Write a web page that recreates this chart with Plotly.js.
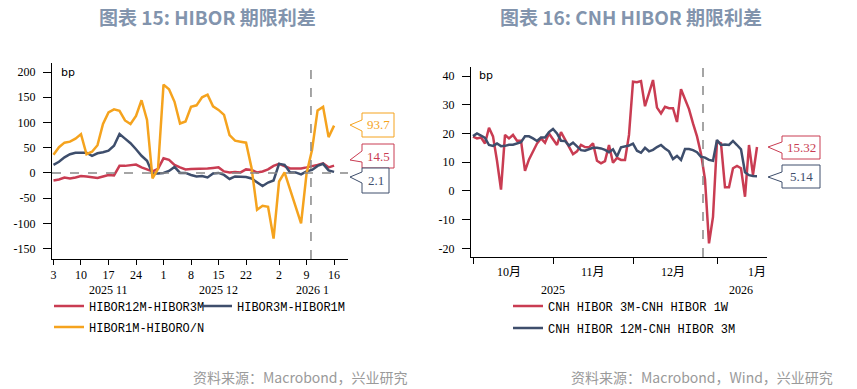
<!DOCTYPE html>
<html><head><meta charset="utf-8">
<script src="https://cdn.plot.ly/plotly-3.0.1.min.js"></script>
<style>html,body{margin:0;padding:0;background:#fff;}#chart{width:857px;height:389px;}</style>
</head><body><div id="chart"></div>
<script>
// ---------- DATA: HIBOR term spreads (bp), HK trading days ----------
const hiborDates = ['2025-11-03','2025-11-04','2025-11-05','2025-11-06','2025-11-07','2025-11-10','2025-11-11','2025-11-12','2025-11-13','2025-11-14',
  '2025-11-17','2025-11-18','2025-11-19','2025-11-20','2025-11-21','2025-11-24','2025-11-25','2025-11-26','2025-11-27','2025-11-28',
  '2025-12-01','2025-12-02','2025-12-03','2025-12-04','2025-12-05','2025-12-08','2025-12-09','2025-12-10','2025-12-11','2025-12-12',
  '2025-12-15','2025-12-16','2025-12-17','2025-12-18','2025-12-19','2025-12-22','2025-12-23','2025-12-24','2025-12-29','2025-12-30','2025-12-31',
  '2026-01-02','2026-01-05','2026-01-06','2026-01-07','2026-01-08','2026-01-09','2026-01-12','2026-01-13','2026-01-14','2026-01-15','2026-01-16'];
const hibor12m3m = [-15,-13,-9,-11,-9,-6,-7,-9,-10,-7,-4,-5,14,14,15,16.5,11,7,3,8,
  29,26,16,11,7,8,8,8,9,10,11,3,1,2,1,7,6,1,3,7,14,
  18,14,9,9,9,11,13,16,19,11,14.5];
const hibor3m1m = [16,22,31,37,40,40,40,34,39,41,44,54,77,68,59,47,34,24,-1,-1,
  0,4,12,0,0,-4,-7,-6,-9,-1,0,-4,-12,-7,-8,-8,-11,-19,-26,-19,-15,
  18,16,1,1,-3,3,6,14,18,5,2.1];
const hibor1mON = [36,51,60,62,68,77,37,42,55,97,120,126,123,104,97,113,144,105,-11,8,
  175,166,141,98,102,131,134,150,155,132,125,115,75,64,62,60,10,-73,-65,-67,-130,
  -17,1,-33,-67,-100,-1,46,124,131,71,93.7];
const hiborNames = ['HIBOR12M-HIBOR3M','HIBOR3M-HIBOR1M','HIBOR1M-HIBORO/N'];
const hiborTickDates = ['2025-11-03','2025-11-10','2025-11-17','2025-11-24','2025-12-01','2025-12-08','2025-12-15','2025-12-22','2026-01-02','2026-01-09','2026-01-16'];
const hiborTickText = ['3','10','17','24','1','8','15','22','2','9','16'];
const hiborYTicks = [-150,-100,-50,0,50,100,150,200];
const hiborPeriodAt = ['2025-11-17','2025-12-15','2026-01-12'];
const hiborPeriodText = ['2025 11','2025 12','2026 1'];

// ---------- DATA: CNH HIBOR term spreads (bp) ----------
const cnhDates = ['2025-10-02','2025-10-03','2025-10-06','2025-10-08','2025-10-09','2025-10-10','2025-10-13','2025-10-14','2025-10-15','2025-10-16',
  '2025-10-17','2025-10-20','2025-10-21','2025-10-22','2025-10-23','2025-10-24','2025-10-27','2025-10-28','2025-10-30','2025-10-31',
  '2025-11-03','2025-11-04','2025-11-05','2025-11-06','2025-11-07','2025-11-10','2025-11-11','2025-11-12','2025-11-13','2025-11-14',
  '2025-11-17','2025-11-18','2025-11-19','2025-11-20','2025-11-21','2025-11-24','2025-11-25','2025-11-26','2025-11-27','2025-11-28',
  '2025-12-01','2025-12-02','2025-12-03','2025-12-04','2025-12-05','2025-12-08','2025-12-09','2025-12-10','2025-12-11','2025-12-12',
  '2025-12-15','2025-12-16','2025-12-17','2025-12-18','2025-12-19','2025-12-22','2025-12-23','2025-12-24','2025-12-29','2025-12-30','2025-12-31',
  '2026-01-02','2026-01-05','2026-01-06','2026-01-07','2026-01-08','2026-01-09','2026-01-12','2026-01-13','2026-01-14','2026-01-15','2026-01-16'];
const cnh3m1w = [18.9,18.3,18.6,16.5,22.0,19.0,10.5,0.5,19.5,18.3,19.5,17.5,17.5,7,11,14,16.5,18.3,16.8,20.0,
  17.8,16,20.5,18,15,12.8,13.8,16,15.3,15.2,16.6,10.5,9.6,10.4,16,9.8,11.5,10.8,10.8,19.5,
  38,37.8,38.2,29.5,34,38.6,29,27,29.3,28.8,28.8,24,35.4,32,28.5,23.5,19,13,4,-18.2,-9,
  17.2,16.6,1.3,1.3,7.9,8.7,7.9,-2,16,5.6,15.32];
const cnh12m3m = [19.1,20.0,19.3,18.5,16.0,15.7,16.5,15.6,15.7,16.1,16.1,16.5,17.0,19.0,19.0,18.3,17.4,18.6,18.6,20.5,
  21.6,20.0,17.5,17.4,15.8,16.8,15.5,14.2,14.0,14.5,15.0,15.0,14.8,14.3,13.5,14.5,12,15.2,15.4,15.8,
  16.5,14.0,13.3,15.0,13.8,14.3,15.3,16.0,14.8,13.8,11.1,12.2,10.8,14.6,14.6,14.2,13.5,11.9,11.6,10.8,10.5,
  17.7,16.0,16.2,16.0,17.4,16.0,14.5,6.5,5.5,5.2,5.14];
const cnhNames = ['CNH HIBOR 3M-CNH HIBOR 1W','CNH HIBOR 12M-CNH HIBOR 3M'];
const cnhMonthTicks = ['2025-10-02','2025-11-03','2025-12-01','2026-01-02'];
const cnhMonthAt = ['2025-10-16','2025-11-17','2025-12-15','2026-01-16'];
const cnhMonthText = ['10月','11月','12月','1月'];
const cnhYearAt = ['2025-11-03','2026-01-12'];
const cnhYearText = ['2025','2026'];
const cnhYTicks = [-20,-10,0,10,20,30,40];

// ---------- STYLE / LAYOUT ----------
const W = 857, H = 389;
const PX = x => x / W, PY = y => 1 - y / H;
const RED = '#C93C52', SLATE = '#3E4E6C', ORANGE = '#F5A31E';
const serif = 'Liberation Serif, Noto Sans CJK SC, serif';
const mono = 'Liberation Mono, DejaVu Sans Mono, monospace';
const cjk = 'Noto Sans CJK SC, sans-serif';

const traces = [
  {x: hiborDates, y: hibor12m3m, name: hiborNames[0], type:'scatter', mode:'lines', xaxis:'x', yaxis:'y', line:{color:RED, width:2.5}, legend:'legend'},
  {x: hiborDates, y: hibor3m1m, name: hiborNames[1], type:'scatter', mode:'lines', xaxis:'x', yaxis:'y', line:{color:SLATE, width:2.5}, legend:'legend2'},
  {x: hiborDates, y: hibor1mON, name: hiborNames[2], type:'scatter', mode:'lines', xaxis:'x', yaxis:'y', line:{color:ORANGE, width:2.5}, legend:'legend3'},
  {x: cnhDates, y: cnh3m1w, name: cnhNames[0], type:'scatter', mode:'lines', xaxis:'x2', yaxis:'y2', line:{color:RED, width:2.5}, legend:'legend4'},
  {x: cnhDates, y: cnh12m3m, name: cnhNames[1], type:'scatter', mode:'lines', xaxis:'x2', yaxis:'y2', line:{color:SLATE, width:2.5}, legend:'legend5'}
];

const axBase = {showgrid:false, zeroline:false, showline:true, linecolor:'#000', linewidth:1,
  ticks:'outside', tickcolor:'#000', tickwidth:1, fixedrange:true};

const legBase = {orientation:'h', xanchor:'left', yanchor:'middle', bgcolor:'rgba(0,0,0,0)',
  font:{family:mono, size:12, color:'#000'}, itemwidth:30, itemclick:false};

const annotations = [];
function ann(o) { annotations.push(Object.assign({showarrow:false, xanchor:'center', yanchor:'middle'}, o)); }
// titles
ann({text:'图表 15: HIBOR 期限利差', xref:'paper', yref:'paper', x:PX(207), y:PY(17),
  font:{family:cjk, size:19, color:'#8294AD', weight:'bold'}});
ann({text:'图表 16: CNH HIBOR 期限利差', xref:'paper', yref:'paper', x:PX(631), y:PY(17),
  font:{family:cjk, size:19, color:'#8294AD', weight:'bold'}});
// sources
ann({text:'资料来源：Macrobond，兴业研究', xref:'paper', yref:'paper', x:PX(410), y:PY(377), xanchor:'right',
  font:{family:cjk, size:14, color:'#9a9a9a'}});
ann({text:'资料来源：Macrobond，Wind，兴业研究', xref:'paper', yref:'paper', x:PX(835), y:PY(377), xanchor:'right',
  font:{family:cjk, size:14, color:'#9a9a9a'}});
// bp units
ann({text:'bp', xref:'paper', yref:'paper', x:PX(59), y:PY(72), xanchor:'left', font:{family:'DejaVu Sans', size:11, color:'#000'}});
ann({text:'bp', xref:'paper', yref:'paper', x:PX(477), y:PY(76), xanchor:'left', font:{family:'DejaVu Sans', size:11, color:'#000'}});
// second-level x labels
hiborPeriodAt.forEach((d,i)=>ann({text:hiborPeriodText[i], xref:'x', yref:'paper', x:d, y:PY(290), font:{family:serif, size:12, color:'#000'}}));
cnhMonthAt.forEach((d,i)=>ann({text:cnhMonthText[i], xref:'x2', yref:'paper', x:d, y:PY(272), font:{family:serif, size:12, color:'#000'}}));
cnhYearAt.forEach((d,i)=>ann({text:cnhYearText[i], xref:'x2', yref:'paper', x:d, y:PY(290), font:{family:serif, size:12, color:'#000'}}));

// callouts for latest values
const shapes = [];
function callout(val, color, box, tip, att) {
  const [xl, xr, yt, yb] = box;
  const p = `M${PX(xl)},${PY(yt)} L${PX(xr)},${PY(yt)} L${PX(xr)},${PY(yb)} L${PX(xl)},${PY(yb)} L${PX(xl)},${PY(att[1])} L${PX(tip[0])},${PY(tip[1])} L${PX(xl)},${PY(att[0])} Z`;
  shapes.push({type:'path', xref:'paper', yref:'paper', path:p, line:{color:color, width:1}, fillcolor:'#fff', layer:'above'});
  ann({text:String(val), xref:'paper', yref:'paper', x:PX((xl+xr)/2), y:PY((yt+yb)/2),
    font:{family:serif, size:13, color:color}});
}
callout(hibor1mON[hibor1mON.length-1], ORANGE, [362,394,113,137], [350,125], [120,131]);
callout(hibor12m3m[hibor12m3m.length-1], RED, [362,394,144,168], [350,160], [151,162]);
callout(hibor3m1m[hibor3m1m.length-1], SLATE, [362,389,168,193], [350,177], [172,183]);
callout(cnh3m1w[cnh3m1w.length-1].toFixed(2), RED, [782,820,136,159], [768,147], [142,153]);
callout(cnh12m3m[cnh12m3m.length-1].toFixed(2), SLATE, [782,820,165,188], [768,177], [172,182]);

// reference lines
shapes.push({type:'line', xref:'x domain', yref:'y', x0:0, x1:1, y0:0, y1:0, line:{color:'#888', width:1.5, dash:'dash'}});
shapes.push({type:'line', xref:'x', yref:'y domain', x0:46.8, x1:46.8, y0:0, y1:1, line:{color:'#888', width:1.5, dash:'dash'}});
shapes.push({type:'line', xref:'x2', yref:'y2 domain', x0:57.5, x1:57.5, y0:0, y1:1, line:{color:'#888', width:1.5, dash:'dash'}});

const layout = {
  width:W, height:H, margin:{l:0,r:0,t:0,b:0}, paper_bgcolor:'#fff', plot_bgcolor:'#fff', showlegend:true,
  xaxis: Object.assign({}, axBase, {type:'category', domain:[PX(52), PX(348)], anchor:'y', range:[-0.27, 53.53],
    tickmode:'array', tickvals:hiborTickDates, ticktext:hiborTickText, ticklen:5,
    tickfont:{family:serif, size:12, color:'#000'}}),
  yaxis: Object.assign({}, axBase, {domain:[PY(259), PY(63)], anchor:'x', range:[-170.6, 217.9],
    tickmode:'array', tickvals:hiborYTicks, ticktext:hiborYTicks.map(String), ticklen:8, ticklabelstandoff:5,
    tickfont:{family:serif, size:12, color:'#000'}}),
  xaxis2: Object.assign({}, axBase, {type:'category', domain:[PX(471), PX(767)], anchor:'y2', range:[-0.5, 73.5],
    tickmode:'array', tickvals:cnhMonthTicks, showticklabels:false, ticklen:6}),
  yaxis2: Object.assign({}, axBase, {domain:[PY(257), PY(67)], anchor:'x2', range:[-22.96, 43.13],
    tickmode:'array', tickvals:cnhYTicks, ticktext:cnhYTicks.map(String), ticklen:8, ticklabelstandoff:5,
    tickfont:{family:serif, size:12, color:'#000'}}),
  legend:  Object.assign({}, legBase, {x:PX(49),  y:PY(306)}),
  legend2: Object.assign({}, legBase, {x:PX(197), y:PY(306)}),
  legend3: Object.assign({}, legBase, {x:PX(49),  y:PY(327)}),
  legend4: Object.assign({}, legBase, {x:PX(508), y:PY(306)}),
  legend5: Object.assign({}, legBase, {x:PX(508), y:PY(328)}),
  annotations: annotations,
  shapes: shapes
};

Plotly.newPlot('chart', traces, layout, {displayModeBar:false, staticPlot:true});
</script></body></html>
